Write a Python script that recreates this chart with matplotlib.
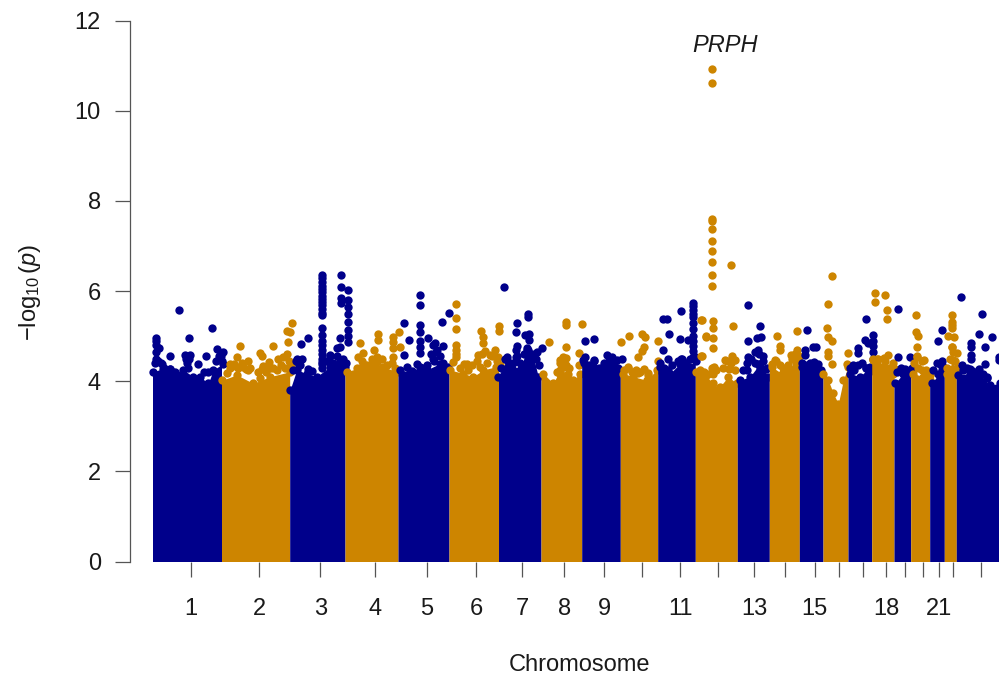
import matplotlib
matplotlib.use('Agg')
import matplotlib.pyplot as plt

plt.rcParams['font.family'] = ['Liberation Sans', 'DejaVu Sans']
plt.rcParams['mathtext.fontset'] = 'custom'
plt.rcParams['mathtext.rm'] = 'Liberation Sans'
plt.rcParams['mathtext.it'] = 'Liberation Sans:italic'
plt.rcParams['mathtext.default'] = 'regular'

# genome position is in arbitrary scaled units, the axis only shows chromosomes
chrom_edges = [152.5, 221.5, 289.7, 345, 398, 449, 498.5, 541, 581.7, 620.3, 657.7, 695.3,
               737.3, 769.3, 799.3, 823, 848, 871.7, 894, 910.7, 929.7, 944.3, 956.3, 1004]
chrom_ticks = [190.7, 259.3, 320.3, 375, 426.7, 476.3, 522, 564.3, 604.3, 642, 680, 717.7,
               754, 785.3, 814.7, 839, 863.3, 886, 905.3, 922.7, 939, 953.3, 980.7]
chrom_labels = ['1', '2', '3', '4', '5', '6', '7', '8', '9', '', '11', '',
                '13', '', '15', '', '', '18', '', '', '21', '', '']
y_ticks = [0, 2, 4, 6, 8, 10, 12]

# top of the solid mass of points, per chromosome
body_x = [
    [153.3, 163.3, 170, 176.7, 183.3, 193.3, 200, 208.3, 213.3, 223.3],
    [222, 236.7, 253.3, 270, 290],
    [290, 296.7, 306.7, 316.7, 330, 340, 345],
    [346.7, 363.3, 373.3, 383.3, 396.7],
    [400, 410, 420, 426.7, 440, 448.3],
    [450, 463.3, 473.3, 483.3, 496],
    [498.3, 506.7, 513.3, 520, 526.7, 533.3, 538.3],
    [543.3, 553.3, 560, 568.3, 573.3, 580],
    [583.3, 593.3, 603.3, 610, 620],
    [623.3, 633.3, 646.7, 656.7],
    [660, 670, 680, 690, 695],
    [696, 700, 706.7, 720, 728.3, 736.7],
    [740, 750, 760, 768.3],
    [771.7, 781.7, 788.3, 798.3],
    [801.7, 813.3, 821.7],
    [823.3, 828.3, 833.3, 838.3, 843.3, 848],
    [850, 860, 870],
    [873.3, 883.3, 893.3],
    [895, 903.3, 910],
    [913.3, 923.3, 929.5],
    [931.7, 941.7],
    [946.7, 953.3, 956],
    [958.3, 970, 980, 990, 999.7],
]
body_top = [
    [4.21, 4.28, 4.28, 4.14, 4.25, 4.10, 4.10, 3.95, 4.25, 4.39],
    [4.02, 4.14, 3.95, 4.10, 4.21],
    [3.80, 4.25, 4.17, 4.10, 4.32, 4.47, 4.32],
    [4.21, 4.32, 4.39, 4.32, 4.21],
    [4.25, 4.20, 4.32, 4.25, 4.39, 4.32],
    [4.25, 4.17, 4.10, 4.25, 4.32],
    [4.10, 4.47, 4.25, 4.25, 4.69, 4.54, 4.10],
    [4.17, 3.95, 4.25, 4.17, 4.02, 4.17],
    [4.47, 4.32, 4.32, 4.47, 4.25],
    [4.17, 4.10, 4.02, 4.25],
    [4.32, 4.17, 4.39, 4.32, 4.47],
    [4.20, 4.17, 3.95, 3.88, 4.10, 3.95],
    [4.02, 4.10, 4.39, 4.10],
    [4.32, 4.17, 4.28, 4.47],
    [4.32, 4.32, 4.17],
    [4.17, 4.02, 3.73, 3.50, 4.02, 4.32],
    [4.17, 4.10, 4.32],
    [4.47, 4.32, 4.17],
    [3.95, 4.17, 4.25],
    [4.17, 4.10, 4.02],
    [3.95, 4.25],
    [4.17, 4.47, 4.17],
    [4.14, 4.17, 4.14, 3.91, 3.95],
]

# isolated points above the mass, per chromosome
hits_x = [
    [179, 211.7, 189, 156, 156, 159.3, 156, 170, 185, 190, 206, 217.3, 223.3, 197.7, 161.7, 170, 156, 156],
    [239.7, 260, 261.7, 273.3, 236.7, 248.3, 230, 236.7, 243.3, 248.3, 263.3, 269.3, 273.3, 278.3, 282.7,
     287.3, 288.3, 290, 287.3, 291.7, 226.7, 260],
    [300.7, 307.7, 296.7, 300, 307.7]
    + [321.7] * 21
    + [340.7, 340.7, 340.7, 340.7, 348.3, 348.3, 348.3, 348.3, 348.3, 348.3, 348.3, 348.3, 340, 336.7, 330, 330],
    [360, 378.3, 378.3, 399.3, 393.3, 393.3, 400, 393.3, 393.3, 357.7, 363.3, 374.3, 376.7, 363.3],
    [404.3, 409.3, 404.3, 420, 420, 420, 420, 420, 420, 427.7, 435, 442.7, 441.7, 449, 433, 420],
    [456, 456, 456, 456, 456, 456, 456, 453.3, 481, 483.3, 483.3, 499.3, 499.3, 495, 498.3, 485, 478, 490, 466.7, 480],
    [504, 517.3, 528.3, 528.3, 516, 525, 529, 529, 516.7, 516, 541.7, 536.7, 526.7, 507, 516],
    [549.3, 565.7, 565.7, 581.7, 565.7, 579, 579, 563.3, 560, 564],
    [585, 594.3, 594, 585, 607.3, 611.7, 621.7, 616.7],
    [621, 629, 641.7, 645, 644, 641.7, 638.3, 658.3, 658.3, 628.3, 638.3, 648.3],
    [663.3, 667.3, 680.7, 669.3, 680.3, 663.3, 668.3, 680.7, 688.3]
    + [693.3] * 12,
    [700.7, 706, 700.7, 701.7, 712.3, 712.3, 712.3, 712.3, 712.3, 712.3, 712.3, 712.3, 712.3, 712.3,
     730.5, 712.7, 712.7, 732.7, 706, 712.7, 712.7, 701.7, 732.3, 725, 735, 714, 712.7, 729.3, 705, 713.3],
    [748.3, 760, 748.3, 756.7, 761, 758.3, 748.3, 763.3, 758.3, 766, 746.7],
    [777.3, 780.3, 780.3, 797, 796.7, 790.7, 775, 796.7],
    [807, 813.3, 816, 805.3, 805.3, 814.3, 805],
    [831.7, 828.3, 826.7, 828.3, 831.7, 827.7, 827.7, 831.7, 848.3, 846.7],
    [865.7, 857.7, 857.7, 865, 867.7, 873.3, 873.3, 873.3, 873.3, 873.3, 853.3, 866],
    [875, 875, 884.7, 887, 887, 876.7, 888.3, 895],
    [898, 898.3, 910, 908.3],
    [915.7, 915.7, 918.3, 917.3, 924, 916.7, 930, 921.7],
    [941.7, 937.7, 941.7, 938.3],
    [952.3, 952.3, 952.3, 952.3, 948.3, 954, 952.3, 957.3, 951.7],
    [960.7, 982.3, 978.7, 991.7, 970.7, 970.7, 970.7, 970.7, 985, 962.3, 985, 999, 999, 970, 978.3, 986.7],
]
hits_y = [
    [5.57, 5.18, 4.95, 4.95, 4.88, 4.74, 4.65, 4.55, 4.58, 4.58, 4.56, 4.72, 4.65, 4.39, 4.39, 4.27, 4.80, 4.50],
    [4.77, 4.63, 4.56, 4.78, 4.54, 4.45, 4.39, 4.32, 4.32, 4.24, 4.33, 4.43, 4.30, 4.49, 4.53,
     4.60, 4.87, 5.10, 5.11, 5.28, 4.19, 4.06],
    [4.83, 4.95, 4.50, 4.36, 4.28]
    + [6.35, 6.28, 6.20, 6.12, 6.05, 5.98, 5.90, 5.82, 5.75, 5.68, 5.60, 5.52, 5.47, 5.17, 5.02, 4.90, 4.80, 4.70, 4.60, 4.50, 4.42]
    + [6.36, 6.08, 5.84, 5.74, 6.03, 5.80, 5.65, 5.50, 5.32, 5.13, 5.00, 4.87, 4.95, 4.73, 4.58, 4.43],
    [4.84, 5.04, 4.91, 5.10, 4.99, 4.87, 4.76, 4.73, 4.54, 4.54, 4.62, 4.69, 4.54, 4.39],
    [5.28, 4.91, 4.58, 5.92, 5.68, 5.24, 5.10, 4.90, 4.76, 4.95, 4.84, 4.78, 5.32, 5.52, 4.50, 4.62],
    [5.71, 5.41, 5.15, 4.80, 4.70, 4.60, 4.54, 4.43, 5.12, 4.99, 4.84, 5.23, 5.12, 4.70, 4.54, 4.68, 4.58, 4.58, 4.39, 4.32],
    [6.09, 5.30, 5.50, 5.43, 5.08, 5.02, 5.04, 4.91, 4.78, 4.70, 4.73, 4.65, 4.73, 4.53, 4.54],
    [4.87, 5.32, 5.24, 5.27, 4.75, 4.63, 4.36, 4.54, 4.46, 4.32],
    [4.90, 4.93, 4.48, 4.54, 4.59, 4.53, 4.50, 4.47],
    [4.87, 5.00, 5.04, 4.97, 4.76, 4.67, 4.53, 4.88, 4.45, 4.32, 4.19, 4.14],
    [5.37, 5.39, 5.55, 5.04, 4.93, 4.70, 4.50, 4.50, 4.91]
    + [5.74, 5.66, 5.58, 5.50, 5.42, 5.30, 5.15, 5.00, 4.90, 4.78, 4.66, 4.54],
    [5.35, 4.98, 4.56, 5.35, 10.93, 10.62, 7.59, 7.55, 7.37, 7.10, 6.88, 6.64, 6.35, 6.12,
     6.57, 5.34, 5.17, 5.23, 5.00, 4.95, 4.73, 4.56, 4.56, 4.47, 4.47, 4.32, 4.17, 4.28, 4.06, 3.95],
    [5.70, 5.23, 4.90, 4.95, 4.97, 4.69, 4.54, 4.56, 4.39, 4.28, 4.25],
    [5.00, 4.78, 4.70, 5.12, 4.69, 4.58, 4.48, 4.47],
    [5.14, 4.75, 4.75, 4.69, 4.58, 4.42, 4.36],
    [6.34, 5.71, 5.17, 4.99, 4.89, 4.65, 4.55, 4.38, 4.63, 4.39],
    [5.39, 4.73, 4.63, 4.91, 4.84, 5.02, 4.90, 4.78, 4.65, 4.50, 4.36, 4.30],
    [5.96, 5.76, 5.91, 5.58, 5.38, 4.50, 4.59, 4.28],
    [5.59, 4.53, 4.54, 4.21],
    [5.47, 5.10, 5.00, 4.76, 4.48, 4.54, 4.14, 4.25],
    [5.13, 4.90, 4.36, 4.17],
    [5.47, 5.32, 5.25, 5.17, 5.00, 4.97, 4.76, 4.63, 4.47],
    [5.86, 5.49, 5.05, 4.98, 4.84, 4.75, 4.58, 4.50, 4.75, 4.35, 4.37, 4.54, 4.47, 4.28, 4.21, 4.06],
]

# blobs of overlapping points just above the mass (chr16 is a plain dip, no blobs)
blob_x = [
    [155, 158, 161, 164, 175, 186, 187, 188, 189, 204, 208, 214, 216, 219, 221, 222],
    [230, 234, 238, 242, 246, 250, 258, 262, 266, 270, 277, 281, 285, 289, 291],
    [293, 296, 299, 302, 308, 312, 327, 330, 333, 337, 340, 343, 346, 321.7, 321.7],
    [357, 362, 367, 372, 377, 382, 387, 392, 395],
    [407, 412, 417, 422, 427, 431, 434, 437, 440, 443, 433, 436],
    [460, 464, 468, 472, 477, 482, 487, 492, 497, 500],
    [501, 505, 509, 513, 517, 520, 524, 528, 532, 536, 539],
    [557, 560, 563, 566, 569, 560, 566],
    [584, 589, 594, 599, 604, 609, 614, 618],
    [624, 628, 632, 636, 640, 644, 648],
    [660, 664, 668, 672, 678, 682, 686, 690, 694, 696],
    [700, 704, 708, 712, 716, 723, 727, 731, 735],
    [743, 747, 751, 755, 759, 763, 767, 755, 760],
    [772, 776, 780, 783, 788, 792, 796, 799, 795],
    [802, 806, 810, 814, 818, 821],
    [],
    [850, 854, 858, 862, 866, 869],
    [873, 877, 881, 885, 889, 893, 896, 878, 884],
    [897, 901, 905, 909, 912],
    [914, 918, 922, 926, 929, 917],
    [933, 937, 941, 944, 942],
    [947, 950, 953, 955, 957, 952, 949],
    [963, 967, 971, 975, 979, 983, 987],
]
blob_y = [
    [4.40, 4.45, 4.40, 4.30, 4.20, 4.50, 4.40, 4.30, 4.50, 4.20, 4.20, 4.20, 4.45, 4.55, 4.55, 4.45],
    [4.30, 4.38, 4.30, 4.40, 4.28, 4.30, 4.20, 4.28, 4.20, 4.30, 4.25, 4.35, 4.30, 4.45, 4.35],
    [4.25, 4.45, 4.35, 4.50, 4.20, 4.22, 4.45, 4.55, 4.40, 4.55, 4.75, 4.50, 4.40, 4.30, 4.38],
    [4.30, 4.45, 4.35, 4.50, 4.42, 4.50, 4.35, 4.40, 4.30],
    [4.32, 4.22, 4.38, 4.30, 4.35, 4.60, 4.45, 4.70, 4.55, 4.40, 4.80, 4.65],
    [4.30, 4.38, 4.25, 4.35, 4.45, 4.60, 4.40, 4.55, 4.45, 4.35],
    [4.30, 4.50, 4.35, 4.40, 4.55, 4.40, 4.60, 4.70, 4.60, 4.50, 4.35],
    [4.20, 4.40, 4.50, 4.35, 4.30, 4.15, 4.52],
    [4.40, 4.35, 4.45, 4.30, 4.40, 4.45, 4.35, 4.30],
    [4.25, 4.30, 4.20, 4.25, 4.20, 4.28, 4.18],
    [4.40, 4.30, 4.25, 4.35, 4.45, 4.50, 4.40, 4.50, 4.55, 4.45],
    [4.25, 4.20, 4.15, 4.30, 4.25, 4.30, 4.45, 4.40, 4.25],
    [4.25, 4.40, 4.50, 4.40, 4.60, 4.45, 4.30, 4.65, 4.30],
    [4.38, 4.45, 4.35, 4.30, 4.35, 4.50, 4.40, 4.55, 4.60],
    [4.40, 4.30, 4.40, 4.25, 4.38, 4.25],
    [],
    [4.30, 4.25, 4.35, 4.40, 4.30, 4.20],
    [4.50, 4.40, 4.30, 4.45, 4.30, 4.40, 4.25, 4.50, 4.52],
    [4.20, 4.30, 4.28, 4.22, 4.30],
    [4.40, 4.30, 4.45, 4.25, 4.15, 4.55],
    [4.25, 4.40, 4.35, 4.30, 4.45],
    [4.30, 4.50, 4.65, 4.45, 4.30, 4.75, 4.25],
    [4.25, 4.30, 4.25, 4.20, 4.28, 4.15, 4.10],
]

chrom_colors = ['#00008B', '#CD8500']
axis_color = '#555555'

fig = plt.figure(figsize=(9.99, 6.78), dpi=100)
ax = fig.add_axes([130 / 999, 1 - 561.5 / 678, 869 / 999, 541 / 678])
ax.set_xlim(130, 999)
ax.set_ylim(0, 12)

for i in range(len(body_x)):
    color = chrom_colors[i % 2]
    xs = [chrom_edges[i]] + body_x[i] + [chrom_edges[i + 1]]
    tops = [body_top[i][0]] + body_top[i] + [body_top[i][-1]]
    ax.fill_between(xs, 0, tops, color=color, linewidth=0, zorder=2 + i)
    ax.scatter(body_x[i], body_top[i], s=36, color=color, linewidths=0, zorder=2 + i)
    ax.scatter(hits_x[i], hits_y[i], s=36, color=color, linewidths=0, zorder=2 + i)
    ax.scatter(blob_x[i], blob_y[i], s=36, color=color, linewidths=0, zorder=2 + i)

for side in ['top', 'right', 'bottom']:
    ax.spines[side].set_visible(False)
ax.spines['left'].set_bounds(0, 12)
ax.spines['left'].set_color(axis_color)
ax.spines['left'].set_linewidth(0.9)

ax.set_yticks(y_ticks)
ax.set_xticks(chrom_ticks)
ax.set_xticklabels(chrom_labels)
ax.tick_params(axis='y', length=11, width=0.9, color=axis_color, labelsize=17, pad=10, labelcolor='#1a1a1a')
ax.tick_params(axis='x', length=11, width=0.9, color=axis_color, labelsize=17, pad=15.5, labelcolor='#1a1a1a')

ax.text(725.5, 11.44, 'PRPH', fontsize=17, style='italic', ha='center', va='center', color='#1a1a1a')
fig.text(579 / 999, 1 - 665 / 678, 'Chromosome', fontsize=17, ha='center', va='center', color='#1a1a1a')
fig.text(30 / 999, 1 - 292 / 678, r'$-\log_{10}(\mathit{p})$', fontsize=17, rotation=90,
         ha='center', va='center', color='#1a1a1a')

plt.savefig('out.png', dpi=100)
